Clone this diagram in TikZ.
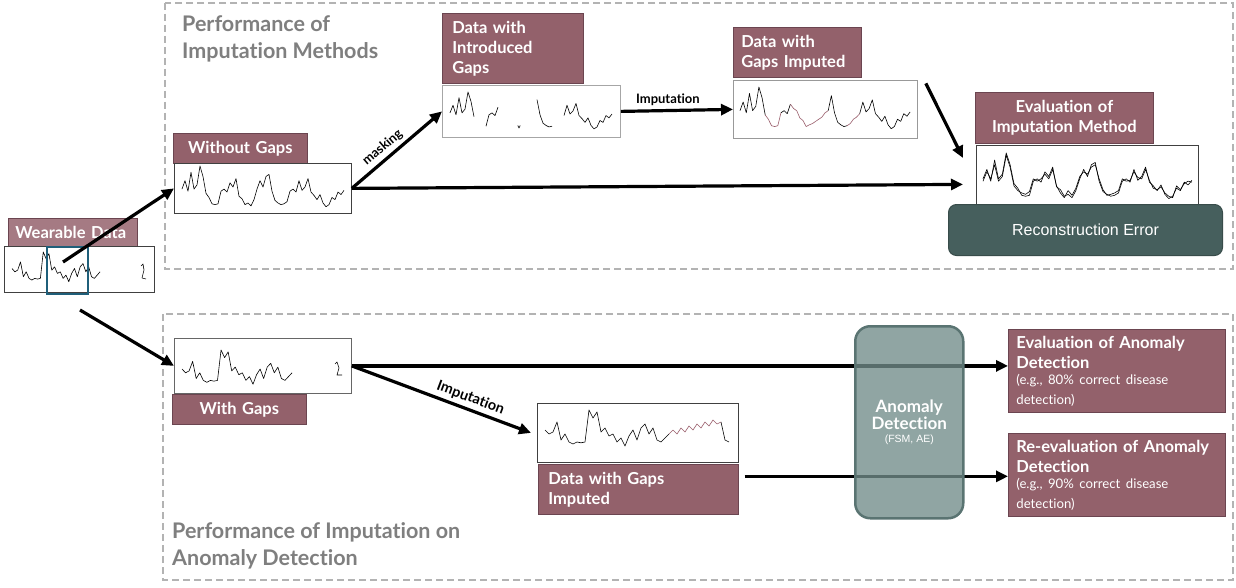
\documentclass[tikz,border=0pt]{standalone}
\usepackage{fontspec}
\setmainfont{Lato}[Ligatures=NoCommon]
\newfontfamily\arialf{Liberation Sans}
\usetikzlibrary{arrows.meta,calc}
\definecolor{lab}{HTML}{93616B}
\definecolor{labl}{HTML}{A57A83}
\definecolor{labd}{HTML}{6B4550}
\definecolor{recon}{HTML}{465F5D}
\definecolor{anom}{HTML}{728C8A}
\definecolor{anomd}{HTML}{5A7472}
\definecolor{frm}{HTML}{B3B3B3}
\definecolor{ttl}{HTML}{7F7F7F}
\definecolor{imp}{HTML}{9A5E6C}
\definecolor{hl}{HTML}{1F5F7A}
\newcommand\smallfnt{\fontsize{13.2}{16}\selectfont\mdseries}
\newcommand\adfnt{\fontsize{17}{20}\selectfont\bfseries}
\tikzset{
  frame/.style={draw=frm, line width=1.5pt, dash pattern=on 7pt off 4pt},
  ttlnode/.style={anchor=north west, inner sep=0pt, text=ttl, align=left,
    font=\fontsize{21.5}{27}\selectfont\bfseries},
  labbox/.style={fill=lab, draw=labd, line width=0.7pt, anchor=north west,
    text=white, inner xsep=10pt, inner ysep=3pt,
    font=\fontsize{16.5}{20}\selectfont\bfseries},
  arrlab/.style={font=\fontsize{13}{15}\selectfont\bfseries},
  databox/.style={draw=black!75, line width=0.8pt, fill=white, anchor=north west, inner sep=0pt},
  arr/.style={line width=3.2pt, -{Triangle[length=12pt,width=11pt]}},
  sig/.style={line width=0.6pt, line join=round},
  wavefull/.pic={\draw[sig] (0,.55)--(1,.35)--(2,.6)--(3,.15)--(4,.55)--(5,.45)--(6,0)--(7,.25)--(8,.65)--(9,.75)--(10,.9)--(11,.92)--(12,.9)--(13,.6)--(14,.55)--(15,.62)--(16,.4)--(17,.5)--(18,.3)--(19,.72)--(20,.78)--(21,.92)--(22,.88)--(23,.95)--(24,.8)--(25,.55)--(26,.35)--(27,.5)--(28,.25)--(29,.2)--(30,.6)--(31,.82)--(32,.88)--(33,.92)--(34,.9)--(35,.85)--(36,.6)--(37,.55)--(38,.62)--(39,.35)--(40,.58)--(41,.5)--(42,.3)--(43,.62)--(44,.7)--(45,.8)--(46,.68)--(47,.88)--(48,.97)--(49,.92)--(50,.75)--(51,.8)--(52,.62)--(53,.68)--(54,.58);},
  wavegaps/.pic={\draw[sig] (0,.55)--(1,.35)--(2,.6)--(3,.15)--(4,.55)--(5,.45)--(6,0)--(7,.25)--(8,.65);
    \draw[sig] (12,.9)--(13,.6)--(14,.55)--(15,.62)--(16,.4);
    \draw[sig] (22.6,.88)--(23,.95)--(23.4,.88);
    \draw[sig] (29,.2)--(30,.6)--(31,.82)--(32,.88)--(33,.92)--(34,.9);
    \draw[sig] (38,.62)--(39,.35)--(40,.58)--(41,.5)--(42,.3)--(43,.62)--(44,.7)--(45,.8)--(46,.68)--(47,.88)--(48,.97)--(49,.92)--(50,.75)--(51,.8)--(52,.62)--(53,.68)--(54,.58);},
  waveimp/.pic={\draw[sig] (0,.55)--(1,.35)--(2,.6)--(3,.15)--(4,.55)--(5,.45)--(6,0)--(7,.25)--(8,.65);
    \draw[sig,imp] (8,.65)--(9,.75)--(10,.9)--(11,.92)--(12,.9)--(13,.6);
    \draw[sig] (13,.6)--(14,.55)--(15,.62)--(16,.4);
    \draw[sig,imp] (16,.4)--(17,.5)--(18,.55)--(19,.72)--(20,.78)--(21,.92)--(22,.88)--(23,.85)--(24,.8)--(25,.75)--(26,.7)--(27,.6)--(28,.55);
    \draw[sig] (28,.55)--(29,.2)--(30,.6)--(31,.82)--(32,.88)--(33,.92)--(34,.9);
    \draw[sig,imp] (34,.9)--(35,.85)--(36,.75)--(37,.7)--(38,.62);
    \draw[sig] (38,.62)--(39,.35)--(40,.58)--(41,.5)--(42,.3)--(43,.62)--(44,.7)--(45,.8)--(46,.68)--(47,.88)--(48,.97)--(49,.92)--(50,.75)--(51,.8)--(52,.62)--(53,.68)--(54,.58);},
  waveover/.pic={\draw[sig] (0,.6)--(1,.4)--(2,.55)--(3,.25)--(4,.6)--(5,.5)--(6,.05)--(7,.3)--(8,.7)--(9,.8)--(10,.85)--(11,.88)--(12,.82)--(13,.55)--(14,.6)--(15,.55)--(16,.45)--(17,.55)--(18,.35)--(19,.7)--(20,.85)--(21,.95)--(22,.8)--(23,.9)--(24,.75)--(25,.5)--(26,.4)--(27,.45)--(28,.3)--(29,.25)--(30,.55)--(31,.78)--(32,.9)--(33,.88)--(34,.85)--(35,.8)--(36,.55)--(37,.6)--(38,.58)--(39,.4)--(40,.52)--(41,.55)--(42,.35)--(43,.58)--(44,.75)--(45,.78)--(46,.72)--(47,.85)--(48,.92)--(49,.95)--(50,.7)--(51,.78)--(52,.65)--(53,.6)--(54,.62);},
  waveshort/.pic={\draw[sig] (0,.5)--(1,.6)--(2,.55)--(3,.3)--(4,.75)--(5,.6)--(6,.8)--(7,.85)--(8,.8)--(9,.82)--(10,.8)--(11,0)--(12,.2)--(13,.05)--(14,.55)--(15,.45)--(16,.65)--(17,.6)--(18,.8)--(19,.7)--(20,.9)--(21,.65)--(22,.5)--(23,.75)--(24,.45)--(25,.35)--(26,.6)--(27,.45)--(28,.75)--(29,.8)--(30,.7)--(31,.6);},
  wavebi/.pic={\draw[sig] (0,.5)--(1,.6)--(2,.55)--(3,.3)--(4,.75)--(5,.6)--(6,.8)--(7,.85)--(8,.8)--(9,.82)--(10,.8)--(11,0)--(12,.2)--(13,.05)--(14,.55)--(15,.45)--(16,.65)--(17,.6)--(18,.8)--(19,.7)--(20,.9)--(21,.65)--(22,.5)--(23,.75)--(24,.45)--(25,.35)--(26,.6)--(27,.45)--(28,.75)--(29,.8)--(30,.7)--(31,.6);
    \draw[sig,imp] (31,.6)--(32,.5)--(33,.6)--(34,.45)--(35,.55)--(36,.4)--(37,.5)--(38,.35)--(39,.45)--(40,.3)--(41,.4)--(42,.25)--(43,.35)--(44,.3);
    \draw[sig] (44,.3)--(45,.75)--(46,.8);}
}
\begin{document}
\begin{tikzpicture}[x=1pt,y=-1pt]
\useasboundingbox (0,0) rectangle (1236,588);
\fill[white] (0,0) rectangle (1236,588);

% frames
\draw[frame] (165,3) rectangle (1233,269);
\draw[frame] (163,314) rectangle (1233,580);
\node[ttlnode] (t1) at (182,15) {Performance of\\Imputation Methods};
\node[ttlnode] (t2) at (172,522) {Performance of Imputation on\\Anomaly Detection};

% wearable data
\node[labbox, fill=labl, minimum width=129pt, minimum height=28pt, text width=115pt, inner xsep=7pt, align=left] (wl) at (8,218) {Wearable Data};
\node[databox, minimum width=150pt, minimum height=46pt] (wd) at (4,246) {};
\pic[xscale=2.84, yscale=33] at (12,252) {waveshort};
\draw[sig] (141,266)--(143,264)--(144,270)--(142,278)--(146,279);
\draw[hl, line width=1.5pt] (47,247) rectangle (88,294);
\coordinate (w1) at (63,262);
\coordinate (w2) at (80,310);

% without gaps
\node[labbox, minimum width=134pt, minimum height=30pt, text width=114pt, align=center] (wgl) at (173,133) {Without Gaps};
\node[databox, minimum width=177pt, minimum height=50pt] (wg) at (174,163) {};
\pic[xscale=3.0, yscale=42] at (182,166) {wavefull};

% introduced gaps
\node[labbox, minimum width=141pt, minimum height=70pt, text width=121pt, align=left] (igl) at (442,13) {Data with\\Introduced\\Gaps};
\node[databox, draw=black!35, minimum width=178pt, minimum height=52pt] (ig) at (442,85) {};
\pic[xscale=3.0, yscale=38] at (450,92) {wavegaps};

% gaps imputed
\node[labbox, minimum width=128pt, minimum height=50pt, text width=112pt, inner xsep=8pt, align=left] (gil) at (733,27) {Data with\\Gaps Imputed};
\node[databox, draw=black!40, minimum width=184pt, minimum height=58pt] (gi) at (733,80) {};
\pic[xscale=3.15, yscale=43] at (740,87) {waveimp};

% evaluation of imputation
\node[labbox, minimum width=178pt, minimum height=51pt, text width=164pt, inner xsep=7pt, align=center] (evl) at (975,92) {Evaluation of\\Imputation Method};
\node[databox, minimum width=222pt, minimum height=60pt] (ev) at (976,145) {};
\pic[xscale=3.87, yscale=47] at (983,153) {waveover};
\pic[xscale=3.87, yscale=47] at (983,153) {wavefull};
\node[fill=recon, draw=recon!80!black, line width=1pt, rounded corners=8pt, anchor=north west,
  minimum width=274pt, minimum height=51pt, text=white, font=\arialf\fontsize{16}{19}\selectfont] (rec) at (948,204) {Reconstruction Error};

% with gaps
\node[databox, draw=black!60, minimum width=177pt, minimum height=55pt] (wgp) at (174,338) {};
\pic[xscale=3.55, yscale=38] at (182,350) {waveshort};
\draw[sig] (335,364)--(337,362)--(339,368)--(337,375)--(342,375);
\node[labbox, minimum width=134pt, minimum height=30pt, text width=114pt, align=center] (wgpl) at (172,394) {With Gaps};

% bottom imputed
\node[databox, minimum width=201pt, minimum height=59pt] (bi) at (537,403) {};
\pic[xscale=4.0, yscale=40] at (545,410) {wavebi};
\node[labbox, minimum width=200pt, minimum height=50pt, text width=180pt, align=left] (bil) at (538,464) {Data with Gaps\\Imputed};

% evaluation boxes
\node[labbox, minimum width=217pt, minimum height=83pt, text width=201pt, inner xsep=8pt, align=left, inner ysep=4pt] (ea) at (1008,329)
  {Evaluation of Anomaly\\Detection\\[0pt]\smallfnt (e.g., 80\% correct disease\\\smallfnt detection)};
\node[labbox, minimum width=217pt, minimum height=83pt, text width=201pt, inner xsep=8pt, align=left, inner ysep=4pt] (re) at (1008,433)
  {Re-evaluation of Anomaly\\Detection\\[0pt]\smallfnt (e.g., 90\% correct disease\\\smallfnt detection)};

% arrows
\draw[arr] (w1) -- (wg.west);
\draw[arr] (w2) -- (wgp.west);
\draw[arr] (wg.east) -- node[sloped, above, arrlab, pos=0.42] {masking} (ig.west);
\draw[arr] (wg.east) -- ($(ev.west)+(-13,9)$);
\draw[arr] (ig.east) -- node[above, arrlab, pos=0.42] {Imputation} (gi.west);
\draw[arr] ($(gi.east)+(8,-26)$) -- ($(ev.north west)+(-13,13)$);
\draw[arr] (wgp.east) -- (wgp.east -| ea.west);
\draw[arr] (wgp.east) -- node[sloped, above, arrlab, font=\fontsize{14.5}{16}\selectfont\bfseries, pos=0.64] {Imputation} ($(bi.west)+(-6,0)$);
\draw[arr] ($(bil.east)+(6,-13)$) -- ($(bil.east -| re.west)+(0,-13)$);

% anomaly detection
\node[fill=anom, fill opacity=0.78, text opacity=1, draw=anomd, line width=2.5pt, rounded corners=15pt, anchor=north west,
  minimum width=108pt, minimum height=192pt, text=white, align=center] (ad) at (854,325)
  {\adfnt Anomaly\\\adfnt Detection\\[1pt]\arialf\fontsize{10.5}{12}\selectfont (FSM, AE)};
\end{tikzpicture}
\end{document}
